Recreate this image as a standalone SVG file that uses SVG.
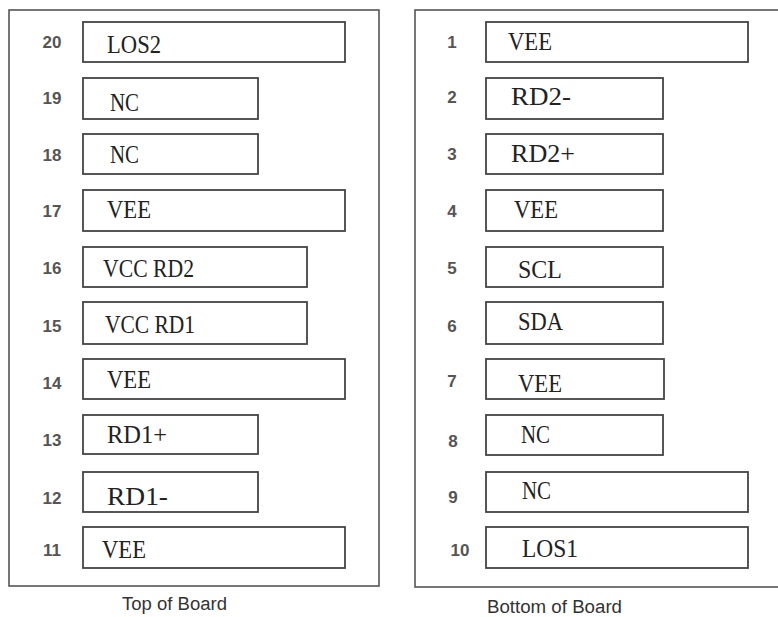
<svg xmlns="http://www.w3.org/2000/svg" width="778" height="617" viewBox="0 0 778 617">
<style>
.board{fill:#fff;stroke:#555;stroke-width:1.6}
.pin{fill:#fff;stroke:#444;stroke-width:1.8}
.num{font-family:"Liberation Sans",Arial,sans-serif;font-size:17px;font-weight:bold;fill:#555;text-anchor:middle}
.lbl{font-family:"Liberation Serif","Times New Roman",serif;font-size:25px;fill:#222}
.cap{font-family:"Liberation Sans",Arial,sans-serif;font-size:18px;fill:#333}
</style>
<rect width="778" height="617" fill="#fff"/>
<g id="top-board">
<rect class="board" x="9" y="10" width="370" height="576"/>
<text class="cap" x="122" y="610" textLength="105" lengthAdjust="spacingAndGlyphs">Top of Board</text>
</g>
<g id="bottom-board">
<rect class="board" x="415" y="10" width="380" height="577"/>
<text class="cap" x="487" y="613" textLength="135" lengthAdjust="spacingAndGlyphs">Bottom of Board</text>
</g>
<g id="pin20"><rect class="pin" x="83" y="22" width="262" height="40"/><text class="num" x="52" y="48">20</text><text class="lbl" x="107" y="53" textLength="54" lengthAdjust="spacingAndGlyphs">LOS2</text></g>
<g id="pin19"><rect class="pin" x="83" y="78" width="175" height="41"/><text class="num" x="52" y="104">19</text><text class="lbl" x="110" y="111" textLength="29" lengthAdjust="spacingAndGlyphs">NC</text></g>
<g id="pin18"><rect class="pin" x="83" y="134" width="175" height="40"/><text class="num" x="52" y="161">18</text><text class="lbl" x="110" y="163" textLength="29" lengthAdjust="spacingAndGlyphs">NC</text></g>
<g id="pin17"><rect class="pin" x="83" y="190" width="262" height="41"/><text class="num" x="52" y="217">17</text><text class="lbl" x="107" y="218" textLength="44" lengthAdjust="spacingAndGlyphs">VEE</text></g>
<g id="pin16"><rect class="pin" x="83" y="247" width="224" height="40"/><text class="num" x="52" y="274">16</text><text class="lbl" x="103" y="277" textLength="91" lengthAdjust="spacingAndGlyphs">VCC RD2</text></g>
<g id="pin15"><rect class="pin" x="83" y="302" width="224" height="42"/><text class="num" x="52" y="332">15</text><text class="lbl" x="105" y="333" textLength="90" lengthAdjust="spacingAndGlyphs">VCC RD1</text></g>
<g id="pin14"><rect class="pin" x="83" y="359" width="262" height="40"/><text class="num" x="52" y="389">14</text><text class="lbl" x="107" y="388" textLength="44" lengthAdjust="spacingAndGlyphs">VEE</text></g>
<g id="pin13"><rect class="pin" x="83" y="415" width="175" height="39"/><text class="num" x="52" y="446">13</text><text class="lbl" x="107" y="443" textLength="60" lengthAdjust="spacingAndGlyphs">RD1+</text></g>
<g id="pin12"><rect class="pin" x="83" y="472" width="175" height="40"/><text class="num" x="52" y="504">12</text><text class="lbl" x="107" y="505" textLength="61" lengthAdjust="spacingAndGlyphs">RD1-</text></g>
<g id="pin11"><rect class="pin" x="83" y="527" width="262" height="41"/><text class="num" x="52" y="556">11</text><text class="lbl" x="102" y="558" textLength="44" lengthAdjust="spacingAndGlyphs">VEE</text></g>
<g id="pin1"><rect class="pin" x="486" y="22" width="262" height="40"/><text class="num" x="452" y="48">1</text><text class="lbl" x="508" y="50" textLength="44" lengthAdjust="spacingAndGlyphs">VEE</text></g>
<g id="pin2"><rect class="pin" x="486" y="78" width="177" height="41"/><text class="num" x="452" y="103">2</text><text class="lbl" x="511" y="105" textLength="60" lengthAdjust="spacingAndGlyphs">RD2-</text></g>
<g id="pin3"><rect class="pin" x="486" y="134" width="177" height="40"/><text class="num" x="452" y="160">3</text><text class="lbl" x="511" y="162" textLength="64" lengthAdjust="spacingAndGlyphs">RD2+</text></g>
<g id="pin4"><rect class="pin" x="486" y="190" width="177" height="41"/><text class="num" x="452" y="217">4</text><text class="lbl" x="514" y="218" textLength="44" lengthAdjust="spacingAndGlyphs">VEE</text></g>
<g id="pin5"><rect class="pin" x="486" y="247" width="177" height="40"/><text class="num" x="452" y="274">5</text><text class="lbl" x="518" y="278" textLength="44" lengthAdjust="spacingAndGlyphs">SCL</text></g>
<g id="pin6"><rect class="pin" x="486" y="302" width="177" height="42"/><text class="num" x="452" y="332">6</text><text class="lbl" x="518" y="330" textLength="45" lengthAdjust="spacingAndGlyphs">SDA</text></g>
<g id="pin7"><rect class="pin" x="486" y="359" width="178" height="40"/><text class="num" x="452" y="387">7</text><text class="lbl" x="518" y="392" textLength="44" lengthAdjust="spacingAndGlyphs">VEE</text></g>
<g id="pin8"><rect class="pin" x="486" y="415" width="177" height="40"/><text class="num" x="453" y="447">8</text><text class="lbl" x="521" y="443" textLength="29" lengthAdjust="spacingAndGlyphs">NC</text></g>
<g id="pin9"><rect class="pin" x="486" y="472" width="262" height="40"/><text class="num" x="453" y="503">9</text><text class="lbl" x="522" y="499" textLength="29" lengthAdjust="spacingAndGlyphs">NC</text></g>
<g id="pin10"><rect class="pin" x="486" y="527" width="262" height="41"/><text class="num" x="460" y="556">10</text><text class="lbl" x="522" y="557" textLength="56" lengthAdjust="spacingAndGlyphs">LOS1</text></g>
</svg>
